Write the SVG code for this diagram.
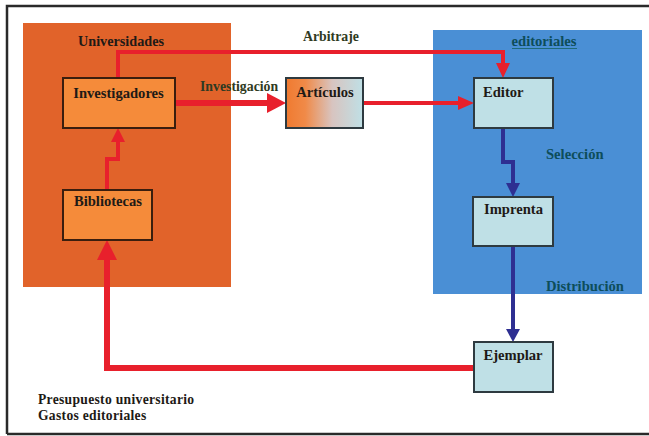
<svg xmlns="http://www.w3.org/2000/svg" width="649" height="436" viewBox="0 0 649 436">
<defs>
<linearGradient id="gArt" x1="0" y1="0" x2="1" y2="0">
<stop offset="0" stop-color="#F07A30"/>
<stop offset="0.25" stop-color="#F08A48"/>
<stop offset="0.6" stop-color="#D8C4C0"/>
<stop offset="1" stop-color="#BFE0E6"/>
</linearGradient>
<style>
text{font-family:"Liberation Serif","DejaVu Serif",serif;font-weight:bold;}
.lbl{font-size:14.6px;fill:#1e1a16;}
.hdr{font-size:14.2px;fill:#1e1a16;}
.teal{font-size:14.6px;fill:#0D4D5A;}
.olive{font-size:13.8px;fill:#2F3A22;}
.foot{font-size:13.6px;letter-spacing:0.3px;fill:#1e1a16;}
.obox{fill:#F58B3A;stroke:#3A1E0E;stroke-width:2;}
.bbox{fill:#BFE0E6;stroke:#2E3A40;stroke-width:2;}
.red{fill:none;stroke:#E8202C;stroke-linejoin:miter;}
.blue{fill:none;stroke:#2E2F92;stroke-width:4;}
.rh{fill:#E8202C;}
.bh{fill:#2E2F92;}
</style>
</defs>
<rect x="0" y="0" width="649" height="436" fill="#ffffff"/>
<path d="M7,434 V6 H649 M7,434 H649" fill="none" stroke="#2a2a2a" stroke-width="2.5"/>

<g id="universidades">
<rect x="23" y="23" width="208" height="264" fill="#E1632A"/>
<text class="hdr" x="121" y="46" text-anchor="middle">Universidades</text>
</g>
<g id="editoriales">
<rect x="433" y="30" width="209" height="264" fill="#4A8FD5"/>
<text class="teal" x="544" y="46" text-anchor="middle">editoriales</text>
<line x1="512" y1="48.5" x2="577" y2="48.5" stroke="#1E6A78" stroke-width="1"/>
</g>

<g id="connectors">
<path class="red" stroke-width="4" d="M118,78 V52 H503 V64"/>
<polygon class="rh" points="496,63 510,63 503,78"/>
<path class="red" stroke-width="6" d="M175,103 H268"/>
<polygon class="rh" points="267,93 286,103 267,113"/>
<path class="red" stroke-width="4" d="M363,103 H459"/>
<polygon class="rh" points="458,96 474,103 458,110"/>
<path class="red" stroke-width="4" d="M107,190 V159 H118 V141"/>
<polygon class="rh" points="111,142 125,142 118,128"/>
<path class="red" stroke-width="6" d="M474,368 H107 V258"/>
<polygon class="rh" points="97,260 117,260 107,240"/>
<path class="blue" d="M503,128 V162 H513 V184"/>
<polygon class="bh" points="506,183 520,183 513,197"/>
<path class="blue" d="M513,246 V330"/>
<polygon class="bh" points="506,329 520,329 513,342"/>
</g>

<g id="investigadores">
<rect class="obox" x="63" y="78" width="112" height="50"/>
<text class="lbl" x="118.5" y="98" text-anchor="middle">Investigadores</text>
</g>
<g id="bibliotecas">
<rect class="obox" x="63" y="190" width="89" height="50"/>
<text class="lbl" x="108" y="206" text-anchor="middle">Bibliotecas</text>
</g>
<g id="articulos">
<rect x="286" y="78" width="77" height="50" fill="url(#gArt)" stroke="#2E3A40" stroke-width="2"/>
<text class="lbl" x="325" y="97" text-anchor="middle">Artículos</text>
</g>
<g id="editor">
<rect class="bbox" x="474" y="78" width="79" height="50"/>
<text class="lbl" x="483" y="97">Editor</text>
</g>
<g id="imprenta">
<rect class="bbox" x="473" y="197" width="80" height="49"/>
<text class="lbl" x="513.5" y="214" text-anchor="middle">Imprenta</text>
</g>
<g id="ejemplar">
<rect class="bbox" x="474" y="342" width="79" height="50"/>
<text class="lbl" x="513" y="360" text-anchor="middle">Ejemplar</text>
</g>

<g id="labels">
<text class="olive" x="303" y="41">Arbitraje</text>
<text class="olive" x="200" y="91">Investigación</text>
<text class="teal" x="546" y="159">Selección</text>
<text class="teal" x="546" y="291">Distribución</text>
<text class="foot" x="38" y="404">Presupuesto universitario</text>
<text class="foot" x="38" y="420">Gastos editoriales</text>
</g>
</svg>
